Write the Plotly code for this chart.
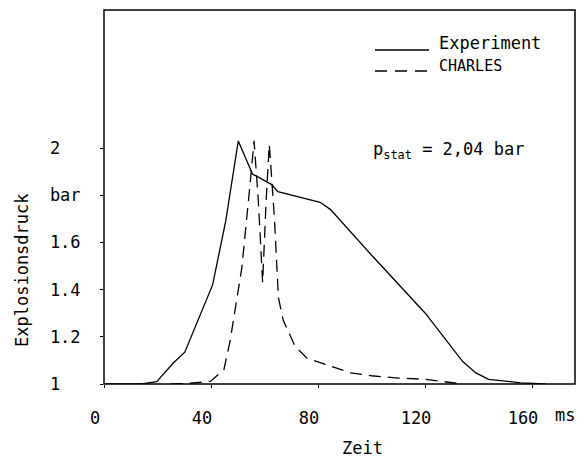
import plotly.graph_objects as go

# Experiment (solid)
exp_t = [0, 14, 19.7, 26, 30.2, 40.6, 45.5, 50.2, 55.5, 62.7, 65.0, 80.8, 84.6,
         100.5, 120.1, 134.1, 139.0, 143.8, 155.7, 165]
exp_p = [1.0, 1.0, 1.01, 1.09, 1.135, 1.42, 1.69, 2.03, 1.89, 1.845, 1.815, 1.77, 1.74,
         1.54, 1.30, 1.095, 1.047, 1.02, 1.005, 1.0]

# CHARLES (dashed)
ch_t = [25, 31, 39.9, 44.8, 47.1, 51.5, 54.6, 56.1, 57.7, 59.3, 60.6, 61.8, 63.7,
        65.2, 67.0, 71.4, 75.8, 83.8, 92.2, 100, 110, 120, 128, 134]
ch_p = [1.0, 1.002, 1.012, 1.06, 1.18, 1.49, 1.846, 2.03, 1.775, 1.43, 1.775, 2.015, 1.705,
        1.366, 1.27, 1.16, 1.11, 1.08, 1.047, 1.035, 1.025, 1.02, 1.01, 1.0]

x_ticks = [0, 40, 80, 120, 160]
x_ticktext = ["0", "40", "80", "120", "160"]
y_ticks = [1.0, 1.2, 1.4, 1.6, 1.8, 2.0]
y_ticktext = ["1", "1.2", "1.4", "1.6", "bar", "2"]

NB = "\u00a0"
y_ticktext_padded = [t + NB * (3 - len(t)) for t in y_ticktext]

FONT = "DejaVu Sans Mono"
FS = 17

# page body has an 8px margin: figure is drawn from (8, 8) in the window
W, H = 569, 450
L, R, T, B = 96, 2, 2, 74
PW, PH = W - L - R, H - T - B
X_MAX = PW / 107 * 40          # 107 px per 40 ms
Y_MAX = 1 + PH / 236           # 236 px per bar


def px(x_screen):
    return (x_screen - 8 - L) / PW


def py(y_screen):
    return (H - B - (y_screen - 8)) / PH


fig = go.Figure()
fig.add_trace(go.Scatter(x=exp_t, y=exp_p, mode="lines", name="Experiment",
                         line=dict(color="black", width=1.3), showlegend=False))
fig.add_trace(go.Scatter(x=ch_t, y=ch_p, mode="lines", name="CHARLES",
                         line=dict(color="black", width=1.3, dash="12px,7px"), showlegend=False))

fig.update_layout(
    width=W, height=H,
    margin=dict(l=L, r=R, t=T, b=B),
    paper_bgcolor="white", plot_bgcolor="white",
    font=dict(family=FONT, size=FS, color="black"),
    xaxis=dict(range=[0, X_MAX], tickvals=x_ticks, ticktext=x_ticktext,
               showgrid=False, zeroline=False, showline=False,
               ticks="outside", ticklen=3,
               tickcolor="black", ticklabelstandoff=16, ticklabelshift=-9,
               automargin=False),
    yaxis=dict(range=[1.0, Y_MAX], tickvals=y_ticks, ticktext=y_ticktext_padded,
               showgrid=False, zeroline=False, showline=False,
               ticks="outside", ticklen=3,
               tickcolor="black", ticklabelstandoff=16, automargin=False),
)

# frame around the plot area
fig.add_shape(type="rect", xref="paper", yref="paper", x0=0, x1=1, y0=0, y1=1,
              line=dict(color="black", width=1.5), fillcolor="rgba(0,0,0,0)",
              layer="above")

# axis titles and unit
fig.add_annotation(text="Zeit", xref="paper", yref="paper", x=px(362), y=py(448),
                   showarrow=False, xanchor="center", yanchor="middle")
fig.add_annotation(text="ms", xref="paper", yref="paper", x=px(565), y=py(415),
                   showarrow=False, xanchor="center", yanchor="middle")
fig.add_annotation(text="Explosionsdruck", xref="paper", yref="paper", x=px(22),
                   y=py(270), showarrow=False, textangle=-90,
                   xanchor="center", yanchor="middle")

# legend
fig.add_shape(type="line", xref="paper", yref="paper",
              x0=px(375), x1=px(429), y0=py(50), y1=py(50),
              line=dict(color="black", width=1.3))
fig.add_shape(type="line", xref="paper", yref="paper",
              x0=px(375), x1=px(429), y0=py(71), y1=py(71),
              line=dict(color="black", width=1.3, dash="12px,8px"))
fig.add_annotation(text="Experiment", xref="paper", yref="paper",
                   x=px(437), y=py(43), showarrow=False,
                   xanchor="left", yanchor="middle")
fig.add_annotation(text="CHARLES", xref="paper", yref="paper",
                   x=px(437), y=py(66), showarrow=False,
                   xanchor="left", yanchor="middle", font=dict(size=15))

fig.add_annotation(text="p<sub>stat</sub> = 2,04 bar", xref="paper", yref="paper",
                   x=px(371), y=py(150), showarrow=False,
                   xanchor="left", yanchor="middle")

fig.write_html("out.html")
